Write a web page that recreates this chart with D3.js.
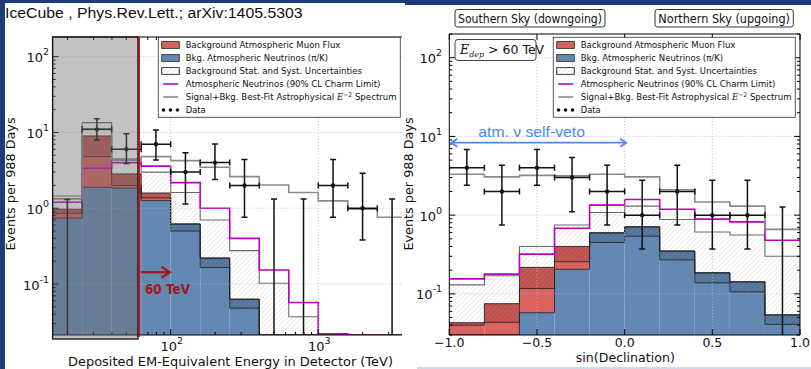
<!DOCTYPE html>
<html><head><meta charset="utf-8">
<script src="https://cdn.jsdelivr.net/npm/d3@7"></script>
<style>body{margin:0;background:#1c3b78;} svg{display:block}</style>
</head><body><svg id="c" width="811" height="369"></svg>
<script>
// ---------------- DATA ----------------
// Left panel: energy bins (TeV), edges 10^1.2 ... 10^3.6 in 0.2-decade steps
const energyEdges = [15.85, 25.12, 39.81, 63.10, 100, 158.5, 251.2, 398.1, 631.0, 1000, 1585, 2512, 3981];
const eNu       = [0.74, 1.89, 1.84, 1.26, 0.62, 0.22, 0.063, 0, 0, 0, 0, 0];
const eBkgTotal = [0.97, 9.0, 2.84, 1.59, 0.62, 0.22, 0.063, 0, 0, 0, 0, 0];
const eBandLo   = [0.86, 4.8, 2.0, 1.37, 0.5, 0.165, 0.048, 0, 0, 0, 0, 0];
const eBandHi   = [1.45, 13.5, 4.3, 3.0, 1.61, 0.70, 0.276, 0.1025, 0.037, 0, 0, 0];
const eCharm    = [1.2, 3.37, 4.0, 3.6, 2.18, 1.0, 0.40, 0.153, 0.057, 0.022, 0, 0];
const eSignal   = [1.33, 11.0, 4.45, 4.8, 4.25, 3.47, 2.61, 2.03, 1.61, 1.25, 0.97, 0.76];
const eData     = [0, 11, 6, 7, 3, 4, 2, 0, 0, 2, 1, 0];
const eDataLo   = [0, 7.97, 3.9, 4.34, 1.14, 2.4, 0.76, 0, 0, 0.76, 0.38, 0];
const eDataHi   = [1.3, 15.2, 9.6, 10.8, 5.4, 7.05, 4.4, 1.32, 1.32, 4.4, 2.9, 1.32];
const eThreshold = 60; // TeV

// Right panel: sin(declination) bins
const decEdges  = [-1, -0.8, -0.6, -0.4, -0.2, 0, 0.2, 0.4, 0.6, 0.8, 1];
const dNu       = [0, 0, 0.0575, 0.205, 0.596, 0.71, 0.35, 0.185, 0.142, 0.054];
const dBkgTotal = [0.043, 0.075, 0.217, 0.40, 0.596, 0.71, 0.35, 0.185, 0.142, 0.054];
const dBandLo   = [0.040, 0.0435, 0.117, 0.256, 0.45, 0.54, 0.27, 0.138, 0.106, 0.041];
const dBandHi   = [0.13, 0.17, 0.40, 0.75, 1.08, 1.30, 0.88, 0.61, 0.56, 0.30];
const dCharm    = [0.155, 0.178, 0.32, 0.68, 1.34, 1.58, 1.19, 0.89, 0.82, 0.48];
const dSignal   = [3.3, 3.06, 3.2, 3.15, 3.3, 3.06, 2.1, 1.47, 1.30, 0.66];
const dData     = [4, 2, 4, 3, 2, 1, 2, 1, 1, 0];
const dDataLo   = [2.4, 0.75, 2.4, 1.1, 0.75, 0.37, 0.75, 0.37, 0.37, 0];
const dDataHi   = [6.8, 4.3, 6.8, 5.4, 4.3, 2.78, 4.3, 2.78, 2.78, 1.27];
const vetoRange = [-1, 0];

// Tick labels
const logTickExps = ["-1", "0", "1", "2"];
const logTickVals = [0.1, 1, 10, 100];
const eXTickVals = [100, 1000];
const eXTickExps = ["2", "3"];
const dXTickVals = [-1, -0.5, 0, 0.5, 1];
const dXTickLabels = ["\u22121.0", "\u22120.5", "0.0", "0.5", "1.0"];

// Legend labels
const legendLabels = ["Background Atmospheric Muon Flux", "Bkg. Atmospheric Neutrinos (\u03c0/K)",
  "Background Stat. and Syst. Uncertainties", "Atmospheric Neutrinos (90% CL Charm Limit)",
  "Signal+Bkg. Best-Fit Astrophysical ", "Data"];
const legendWidths = [155, 142.6, 176.7, 195, 211, 20];

// ---------------- STYLE ----------------
const BLUE = "#6488b4", RED = "#da625f", MAG = "#c000c0", GREYL = "#8a8a8a";
const FONT = "DejaVu Sans, sans-serif";

const svg = d3.select("#c");
const defs = svg.append("defs");
const pat = defs.append("pattern").attr("id", "hatch").attr("patternUnits", "userSpaceOnUse")
  .attr("width", 5).attr("height", 5);
pat.append("path").attr("d", "M-1,1 L1,-1 M0,5 L5,0 M4,6 L6,4")
  .attr("stroke", "rgba(0,0,0,0.17)").attr("stroke-width", 0.6);

// fit a text element horizontally to a target width (keeps it real text)
function fitText(t, x, y, target, anchor) {
  const w = t.node().getComputedTextLength();
  const k = w > 0 ? target / w : 1;
  t.attr("x", 0).attr("y", 0).attr("text-anchor", anchor || "start")
    .attr("transform", `translate(${x},${y}) scale(${k},1)`);
  return t;
}

// backgrounds
svg.append("rect").attr("x", 0).attr("y", 0).attr("width", 811).attr("height", 369).attr("fill", "#1c3b78");
svg.append("rect").attr("x", 5).attr("y", 3).attr("width", 400).attr("height", 366).attr("fill", "#fff");

// scales
const xE = d3.scaleLog().domain([10 ** 1.2, 10 ** 3.62]).range([52.6, 409.8]);
const yE = d3.scaleLog().domain([10 ** -1.673, 10 ** 2.26]).range([335, 37]).clamp(true);
const xD = d3.scaleLinear().domain([-1, 1]).range([449.3, 800]);
const yD = d3.scaleLog().domain([0.03, 200]).range([335, 34]).clamp(true);

function yv(y, v) { return y(v > 0 ? v : y.domain()[0] * 1e-3); }
function stepPts(edges, vals) {
  const p = [];
  vals.forEach((v, i) => { p.push([edges[i], v]); p.push([edges[i + 1], v]); });
  return p;
}

function drawPanel(id, edges, x, y, s, clipBox, logX) {
  defs.append("clipPath").attr("id", id).append("rect")
    .attr("x", clipBox[0]).attr("y", clipBox[1]).attr("width", clipBox[2] - clipBox[0]).attr("height", clipBox[3] - clipBox[1]);
  const g = svg.append("g").attr("clip-path", `url(#${id})`);
  const bottom = y.range()[0];
  const n = edges.length - 1;
  for (let i = 0; i < n; i++) {
    const x0 = x(edges[i]), x1 = x(edges[i + 1]);
    const yn = yv(y, s.nu[i]), yt = yv(y, s.tot[i]);
    g.append("rect").attr("x", x0).attr("width", x1 - x0).attr("y", yn).attr("height", bottom - yn).attr("fill", BLUE);
    if (s.tot[i] > s.nu[i]) g.append("rect").attr("x", x0).attr("width", x1 - x0).attr("y", yt).attr("height", yn - yt).attr("fill", RED);
    if (s.hi[i] > 0) {
      const yh = yv(y, s.hi[i]), yl = yv(y, s.lo[i]);
      g.append("rect").attr("x", x0).attr("width", x1 - x0).attr("y", yh).attr("height", yl - yh).attr("fill", "url(#hatch)");
      const top = Math.min(s.hi[i], s.tot[i]);
      if (top > s.lo[i]) {
        const ytop = yv(y, top);
        g.append("rect").attr("x", x0).attr("width", x1 - x0).attr("y", ytop).attr("height", yl - ytop).attr("fill", "rgba(0,0,0,0.11)");
      }
    }
  }
  const line = d3.line().x(d => x(d[0])).y(d => yv(y, d[1]));
  const stepLine = (vals, col, w) => g.append("path").attr("d", line(stepPts(edges, vals)))
    .attr("fill", "none").attr("stroke", col).attr("stroke-width", w);
  stepLine(s.nu, "rgba(20,20,30,0.8)", 1);
  stepLine(s.tot, "rgba(20,20,20,0.8)", 1);
  stepLine(s.lo, "rgba(30,30,30,0.8)", 1);
  stepLine(s.hi, "#6a6a6a", 1.1);
  stepLine(s.charm, MAG, 1.6);
  stepLine(s.sig, GREYL, 1.6);

  // grid
  const gridCol = "#b5b5b5";
  logTickVals.forEach(v => {
    const yy = y(v);
    if (yy > clipBox[1] + 1 && yy < bottom - 1)
      g.append("line").attr("x1", clipBox[0]).attr("x2", clipBox[2]).attr("y1", yy).attr("y2", yy)
        .attr("stroke", gridCol).attr("stroke-width", 0.8).attr("stroke-dasharray", "1,2");
  });
  s.xgrid.forEach(v => {
    const xx = x(v);
    g.append("line").attr("x1", xx).attr("x2", xx).attr("y1", clipBox[1]).attr("y2", bottom)
      .attr("stroke", gridCol).attr("stroke-width", 0.8).attr("stroke-dasharray", "1,2");
  });

  // data
  for (let i = 0; i < n; i++) {
    const x0 = x(edges[i]), x1 = x(edges[i + 1]);
    const xc = logX ? x(Math.sqrt(edges[i] * edges[i + 1])) : x((edges[i] + edges[i + 1]) / 2);
    const ylo = yv(y, s.dlo[i]), yhi = yv(y, s.dhi[i]);
    const k = "#111";
    g.append("line").attr("x1", xc).attr("x2", xc).attr("y1", ylo).attr("y2", yhi).attr("stroke", k).attr("stroke-width", 1.5);
    g.append("line").attr("x1", xc - 3).attr("x2", xc + 3).attr("y1", yhi).attr("y2", yhi).attr("stroke", k).attr("stroke-width", 1.5);
    if (s.data[i] > 0) {
      g.append("line").attr("x1", xc - 3).attr("x2", xc + 3).attr("y1", ylo).attr("y2", ylo).attr("stroke", k).attr("stroke-width", 1.5);
      const yd = y(s.data[i]);
      g.append("line").attr("x1", x0).attr("x2", x1).attr("y1", yd).attr("y2", yd).attr("stroke", k).attr("stroke-width", 1.5);
      g.append("line").attr("x1", x0).attr("x2", x0).attr("y1", yd - 3).attr("y2", yd + 3).attr("stroke", k).attr("stroke-width", 1.5);
      g.append("line").attr("x1", x1).attr("x2", x1).attr("y1", yd - 3).attr("y2", yd + 3).attr("stroke", k).attr("stroke-width", 1.5);
      g.append("circle").attr("cx", xc).attr("cy", yd).attr("r", 2.2).attr("fill", k);
    }
  }
  return g;
}

function axesFrame(x0, x1, y0, y1, y, xMajor, xMinor, x, showRight) {
  const g = svg.append("g");
  const st = (a, b, c, d) => g.append("line").attr("x1", a).attr("x2", b).attr("y1", c).attr("y2", d).attr("stroke", "#000").attr("stroke-width", 1);
  st(x0, x1, y0, y0); st(x0, x1, y1, y1); st(x0, x0, y0, y1);
  if (showRight) st(x1, x1, y0, y1);
  const [dmin, dmax] = y.domain();
  for (let e = -3; e <= 3; e++) {
    for (let m = 1; m <= 9; m++) {
      const v = m * 10 ** e;
      if (v < dmin || v > dmax) continue;
      const yy = y(v), L = m === 1 ? 6 : 3;
      st(x0, x0 + L, yy, yy);
      if (showRight) st(x1, x1 - L, yy, yy);
    }
  }
  xMajor.forEach(v => { const xx = x(v); st(xx, xx, y1, y1 - 6); st(xx, xx, y0, y0 + 6); });
  xMinor.forEach(v => { const xx = x(v); st(xx, xx, y1, y1 - 3); st(xx, xx, y0, y0 + 3); });
  return g;
}

function powLabel(x, y, exp, anchor) {
  const t = svg.append("text").attr("x", x).attr("y", y).attr("font-family", FONT).attr("font-size", 13)
    .attr("text-anchor", anchor).attr("fill", "#111");
  t.append("tspan").text("10");
  t.append("tspan").attr("font-size", 9.5).attr("dy", -7).text(exp);
  return t;
}

function legend(x0, y0) {
  const g = svg.append("g");
  g.append("rect").attr("x", x0).attr("y", y0).attr("width", 242).attr("height", 80)
    .attr("fill", "#fff").attr("stroke", "#444").attr("stroke-width", 0.9);
  legendLabels.forEach((lab, i) => {
    const ry = y0 + 7.7 + i * 13;
    const px = x0 + 3.4;
    if (i < 3) {
      const fill = i === 0 ? RED : i === 1 ? BLUE : "#fff";
      g.append("rect").attr("x", px).attr("y", ry - 3.4).attr("width", 17.6).attr("height", 6.8)
        .attr("fill", fill).attr("stroke", "#333").attr("stroke-width", 0.9);
      if (i === 2) g.append("rect").attr("x", px).attr("y", ry - 3.4).attr("width", 17.6).attr("height", 6.8)
        .attr("fill", "url(#hatch)").attr("stroke", "#555").attr("stroke-width", 0.9);
    } else if (i < 5) {
      g.append("line").attr("x1", px + 1.5).attr("x2", px + 16.5).attr("y1", ry).attr("y2", ry)
        .attr("stroke", i === 3 ? MAG : GREYL).attr("stroke-width", 1.6);
    } else {
      [0, 7, 14].forEach(d => g.append("circle").attr("cx", px + 1.8 + d).attr("cy", ry).attr("r", 1.8).attr("fill", "#111"));
    }
    const t = g.append("text").attr("font-family", FONT).attr("font-size", 9.3).attr("fill", "#111");
    t.append("tspan").text(lab);
    if (i === 4) {
      t.append("tspan").attr("font-family", "DejaVu Serif, serif").attr("font-style", "italic").text("E");
      t.append("tspan").attr("font-size", 6.5).attr("dy", -3.5).text("\u22122");
      t.append("tspan").attr("dy", 3.5).text(" Spectrum");
    }
    fitText(t, x0 + 27.4, ry + 3.3, legendWidths[i]);
  });
}

// ---------------- LEFT PANEL ----------------
drawPanel("clipE", energyEdges, xE, yE, {
  nu: eNu, tot: eBkgTotal, lo: eBandLo, hi: eBandHi, charm: eCharm, sig: eSignal,
  data: eData, dlo: eDataLo, dhi: eDataHi, xgrid: [100, 1000]
}, [52.6, 37, 402, 335], true);
const eMinor = [20, 30, 40, 50, 60, 70, 80, 90, 200, 300, 400, 500, 600, 700, 800, 900, 2000, 3000, 4000];
axesFrame(52.6, 402, 37, 335, yE, eXTickVals, eMinor, xE, false);
legend(158.3, 37.3);

// grey overlay for < 60 TeV region
const xThr = xE(eThreshold);
svg.append("rect").attr("x", 52.6).attr("y", 37).attr("width", xThr - 52.6).attr("height", 302)
  .attr("fill", "rgba(110,110,110,0.42)").attr("stroke", "#111").attr("stroke-width", 1.3);
svg.append("line").attr("x1", xThr + 1).attr("x2", xThr + 1).attr("y1", 37).attr("y2", 337)
  .attr("stroke", "#b0141a").attr("stroke-width", 2);
// 60 TeV arrow
const arrY = yE(0.143);
svg.append("line").attr("x1", xThr + 3).attr("x2", xE(98)).attr("y1", arrY).attr("y2", arrY)
  .attr("stroke", "#a3161b").attr("stroke-width", 2.2);
svg.append("polyline").attr("points", `${xE(98) - 8},${arrY - 5.5} ${xE(98) + 0.5},${arrY} ${xE(98) - 8},${arrY + 5.5}`)
  .attr("fill", "none").attr("stroke", "#a3161b").attr("stroke-width", 2.2);
fitText(svg.append("text").attr("font-family", FONT).attr("font-weight", "bold")
  .attr("font-size", 13.5).attr("fill", "#a3161b").text("60 TeV"), 145, 294, 45);

// left tick labels
logTickVals.forEach((v, i) => powLabel(49, yE(v) + 5.5, logTickExps[i], "end"));
eXTickVals.forEach((v, i) => powLabel(xE(v) + 1, 350.5, eXTickExps[i], "middle"));
fitText(svg.append("text").attr("font-family", FONT).attr("font-size", 12.5).attr("fill", "#111")
  .text("Deposited EM-Equivalent Energy in Detector (TeV)"), 230.5, 365.5, 325, "middle");
svg.append("text").attr("transform", "translate(14.5,184) rotate(-90)").attr("text-anchor", "middle")
  .attr("font-family", FONT).attr("font-size", 12.8).attr("fill", "#111").text("Events per 988 Days");

// title
fitText(svg.append("text").attr("font-family", "Liberation Sans, Arial, sans-serif")
  .attr("font-size", 14.5).attr("fill", "#111").text("IceCube , Phys.Rev.Lett.; arXiv:1405.5303"), 5, 18, 298);

// ---------------- RIGHT PANEL ----------------
svg.append("rect").attr("x", 402).attr("y", 5).attr("width", 409).attr("height", 364).attr("fill", "#fff");
svg.append("line").attr("x1", 417).attr("x2", 811).attr("y1", 368).attr("y2", 368)
  .attr("stroke", "#9fb4d4").attr("stroke-width", 1.2);
drawPanel("clipD", decEdges, xD, yD, {
  nu: dNu, tot: dBkgTotal, lo: dBandLo, hi: dBandHi, charm: dCharm, sig: dSignal,
  data: dData, dlo: dDataLo, dhi: dDataHi, xgrid: [-0.5, 0, 0.5]
}, [449.3, 34, 800, 335], false);
axesFrame(449.3, 800, 34, 335, yD, dXTickVals, [], xD, true);
legend(553.3, 37.3);

logTickVals.forEach((v, i) => powLabel(442, yD(v) + 5.5, logTickExps[i], "end"));
dXTickVals.forEach((v, i) => svg.append("text").attr("x", xD(v)).attr("y", 347).attr("text-anchor", "middle")
  .attr("font-family", FONT).attr("font-size", 12.5).attr("fill", "#111").text(dXTickLabels[i]));
fitText(svg.append("text").attr("font-family", FONT).attr("font-size", 13).attr("fill", "#111")
  .text("sin(Declination)"), 625.3, 362, 99.3, "middle");
svg.append("text").attr("transform", "translate(412.5,184) rotate(-90)").attr("text-anchor", "middle")
  .attr("font-family", FONT).attr("font-size", 12.8).attr("fill", "#111").text("Events per 988 Days");

// sky boxes
function skyBox(x0, x1, label, w) {
  svg.append("rect").attr("x", x0).attr("y", 9.5).attr("width", x1 - x0).attr("height", 17.5).attr("rx", 2.5)
    .attr("fill", "#fff").attr("stroke", "#333").attr("stroke-width", 1);
  fitText(svg.append("text").attr("font-family", FONT).attr("font-size", 12.8).attr("fill", "#111").text(label),
    (x0 + x1) / 2, 22.6, w, "middle");
}
skyBox(455, 605, "Southern Sky (downgoing)", 144);
skyBox(655, 793.3, "Northern Sky (upgoing)", 131.7);

// E_dep box
svg.append("rect").attr("x", 455).attr("y", 39.5).attr("width", 81).attr("height", 21).attr("rx", 3)
  .attr("fill", "#fff").attr("stroke", "#444").attr("stroke-width", 1);
const et = svg.append("text").attr("x", 460).attr("y", 54).attr("font-family", FONT).attr("font-size", 12.5).attr("fill", "#111");
et.append("tspan").attr("font-family", "DejaVu Serif, serif").attr("font-style", "italic").text("E");
et.append("tspan").attr("font-family", "DejaVu Serif, serif").attr("font-style", "italic").attr("font-size", 8).attr("dy", 3).text("dep");
et.append("tspan").attr("dy", -3).text(" > 60 TeV");

// self-veto arrow
const vy = 142.7, vx0 = xD(vetoRange[0]) + 2, vx1 = xD(vetoRange[1]) + 1.5;
const VC = "#4b8bf0";
svg.append("line").attr("x1", vx0).attr("x2", vx1).attr("y1", vy).attr("y2", vy).attr("stroke", VC).attr("stroke-width", 1.8);
svg.append("polyline").attr("points", `${vx0 + 6},${vy - 4} ${vx0},${vy} ${vx0 + 6},${vy + 4}`)
  .attr("fill", "none").attr("stroke", VC).attr("stroke-width", 1.8);
svg.append("polyline").attr("points", `${vx1 - 6},${vy - 4} ${vx1},${vy} ${vx1 - 6},${vy + 4}`)
  .attr("fill", "none").attr("stroke", VC).attr("stroke-width", 1.8);
fitText(svg.append("text").attr("font-family", "Liberation Sans, Arial, sans-serif")
  .attr("font-size", 15).attr("fill", VC).text("atm. \u03bd self-veto"), 478.3, 137, 106.7);
</script></body></html>
